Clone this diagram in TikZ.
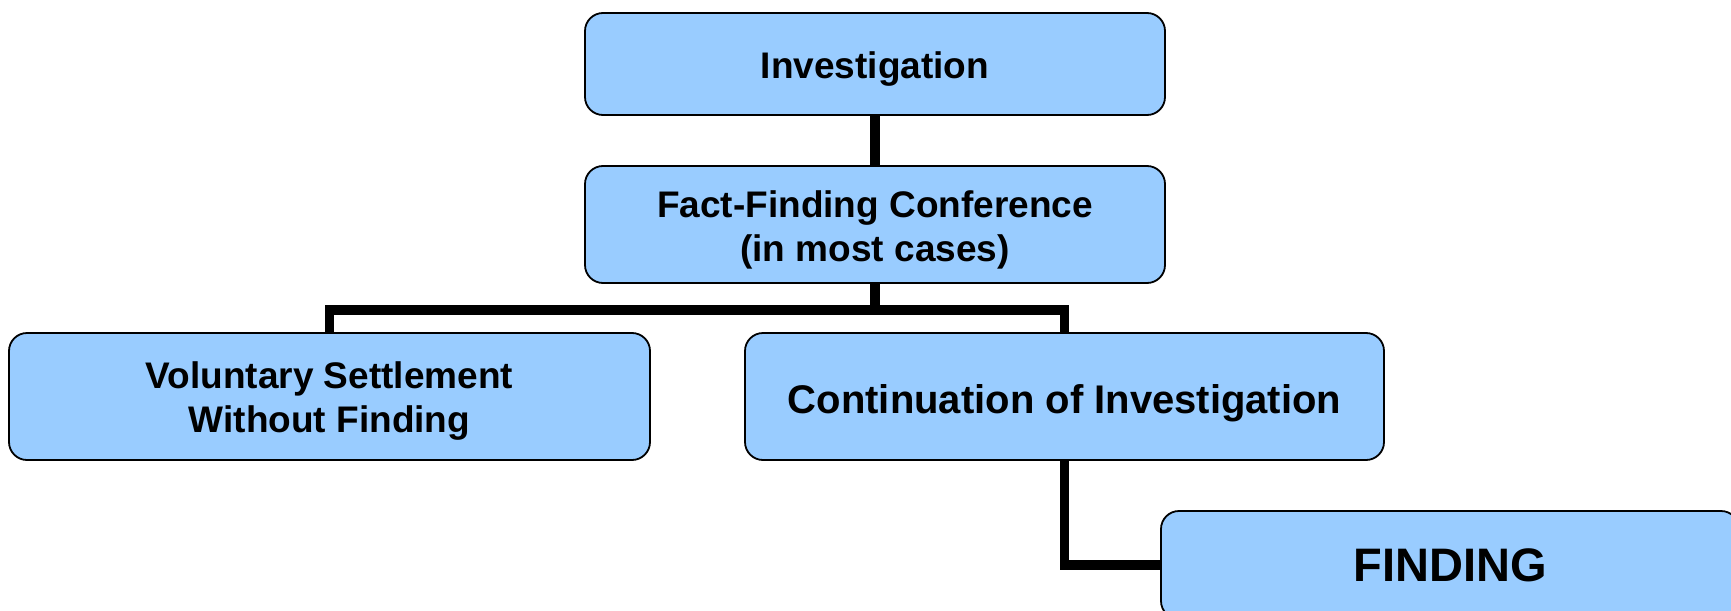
\documentclass[tikz,border=0pt]{standalone}
\usepackage{fontspec}
\setmainfont{Liberation Sans}
\begin{document}
\begin{tikzpicture}[x=1pt,y=-1pt,
  box/.style={draw=black,line width=1.8pt,fill=boxblue,rounded corners=18pt,
    inner sep=0pt},
  boxtext/.style={align=center,inner sep=0pt,yshift=-5pt,
    font=\bfseries\fontsize{37}{44}\selectfont},
  link/.style={line width=9.5pt,draw=black,line join=miter}]
\definecolor{boxblue}{HTML}{99CCFF}
\clip (0,0) rectangle (1731,610);
\fill[white] (0,0) rectangle (1731,610);

% boxes, with their text set as centre labels
\node[box,minimum width=580pt,minimum height=102pt,
  label={[boxtext]center:Investigation}] (inv) at (875,64) {};
\node[box,minimum width=580pt,minimum height=117pt,
  label={[boxtext]center:{Fact-Finding Conference\\(in most cases)}}] (ff) at (875,224.5) {};
\node[box,minimum width=641pt,minimum height=127pt,
  label={[boxtext]center:{Voluntary Settlement\\Without Finding}}] (vol) at (329.5,396.5) {};
\node[box,minimum width=639pt,minimum height=127pt,
  label={[boxtext,yshift=-1.5pt,font=\bfseries\fontsize{40}{48}\selectfont]center:Continuation of Investigation}]
  (cont) at (1064.5,396.5) {};
\node[box,minimum width=578pt,minimum height=108pt,
  label={[boxtext,yshift=5pt,font=\bfseries\fontsize{47}{56}\selectfont]center:FINDING}]
  (find) at (1450,565) {};

% connectors
\coordinate (bus) at (875,310);
\draw[link] (inv.south) -- (ff.north);
\draw[link] (ff.south) -- (bus);
\draw[link] (vol.north) |- (bus) -| (cont.north);
\draw[link] (cont.south) |- (find.west);
\end{tikzpicture}
\end{document}
